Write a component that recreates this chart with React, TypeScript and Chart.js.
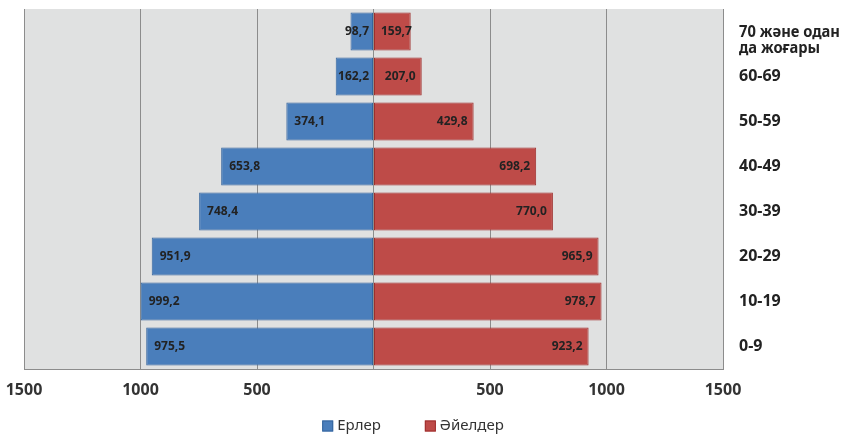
import React, { useEffect, useRef } from "react";
import { Chart, registerables } from "chart.js";

Chart.register(...registerables);

const categories: (string | string[])[] = [
  ["70 және одан", "да жоғары"],
  "60-69",
  "50-59",
  "40-49",
  "30-39",
  "20-29",
  "10-19",
  "0-9",
];
const menValues = [98.7, 162.2, 374.1, 653.8, 748.4, 951.9, 999.2, 975.5];
const womenValues = [159.7, 207.0, 429.8, 698.2, 770.0, 965.9, 978.7, 923.2];
const seriesNames = ["Ерлер", "Әйелдер"];
const xMin = -1500;
const xMax = 1500;
const xStep = 500;

const FONT = '"Noto Sans", "DejaVu Sans", sans-serif';
const fmt = (v: number) => v.toFixed(1).replace(".", ",");

const bgPlugin = {
  id: "plotBg",
  beforeDraw(chart: any) {
    const { ctx, chartArea } = chart;
    ctx.save();
    ctx.fillStyle = "#e0e1e1";
    ctx.fillRect(chartArea.left, chartArea.top, chartArea.right - chartArea.left, chartArea.bottom - chartArea.top);
    ctx.restore();
  },
};

const valueLabelPlugin = {
  id: "valueLabels",
  afterDatasetsDraw(chart: any) {
    const ctx = chart.ctx;
    ctx.save();
    ctx.font = `bold 12px ${FONT}`;
    ctx.fillStyle = "#222222";
    ctx.textBaseline = "middle";
    chart.data.datasets.forEach((ds: any, di: number) => {
      const meta = chart.getDatasetMeta(di);
      const src = di === 0 ? menValues : womenValues;
      meta.data.forEach((el: any, i: number) => {
        const text = fmt(src[i]);
        const w = ctx.measureText(text).width;
        const zero = el.base;
        if (di === 0) {
          const left = Math.min(el.x + 8, zero - 4 - w);
          ctx.textAlign = "left";
          ctx.fillText(text, left, el.y);
        } else {
          const right = Math.max(el.x - 6, zero + 7 + w);
          ctx.textAlign = "right";
          ctx.fillText(text, right, el.y);
        }
      });
    });
    ctx.restore();
  },
};

const categoryLabelPlugin = {
  id: "categoryLabels",
  afterDraw(chart: any) {
    const ctx = chart.ctx;
    const yScale = chart.scales.y;
    ctx.save();
    ctx.font = `bold 16px ${FONT}`;
    ctx.fillStyle = "#222222";
    ctx.textAlign = "left";
    ctx.textBaseline = "middle";
    const x = chart.chartArea.right + 16;
    const avail = chart.width - x - 2;
    categories.forEach((c, i) => {
      const py = yScale.getPixelForValue(i);
      const lines = Array.isArray(c) ? c : [c];
      const widths = lines.map((l) => ctx.measureText(l).width);
      const maxW = Math.max(...widths);
      const factor = maxW > avail ? avail / maxW : 1;
      lines.forEach((line, j) => {
        const dy = lines.length > 1 ? 1 + j * 15.5 : 0;
        ctx.fillText(line, x, py + dy, widths[j] * factor);
      });
    });
    ctx.restore();
  },
};

const legendPlugin = {
  id: "customLegend",
  afterDraw(chart: any) {
    const ctx = chart.ctx;
    ctx.save();
    ctx.font = `15px ${FONT}`;
    ctx.textBaseline = "middle";
    ctx.textAlign = "left";
    const box = 11;
    const gap = 4;
    const itemGap = 44;
    const items = chart.data.datasets.map((ds: any) => ({
      text: ds.label,
      fill: ds.backgroundColor,
      stroke: ds.borderColor,
      w: ctx.measureText(ds.label).width,
    }));
    const total =
      items.reduce((s: number, it: any) => s + box + gap + it.w, 0) + itemGap * (items.length - 1);
    let x = chart.width / 2 - 8 - total / 2;
    const cy = chart.height - 10;
    items.forEach((it: any) => {
      ctx.fillStyle = it.fill;
      ctx.fillRect(x, cy - box / 2, box, box);
      ctx.strokeStyle = it.stroke;
      ctx.lineWidth = 1;
      ctx.strokeRect(x + 0.5, cy - box / 2 + 0.5, box - 1, box - 1);
      ctx.fillStyle = "#333333";
      ctx.fillText(it.text, x + box + gap, cy);
      x += box + gap + it.w + itemGap;
    });
    ctx.restore();
  },
};

export default function App() {
  const canvasRef = useRef<HTMLCanvasElement | null>(null);

  useEffect(() => {
    document.body.style.margin = "0";
    const canvas = canvasRef.current;
    if (!canvas) return;
    Chart.defaults.font.family = FONT;
    const chart = new Chart(canvas, {
      type: "bar",
      data: {
        labels: categories as any,
        datasets: [
          {
            label: seriesNames[0],
            data: menValues.map((v) => -v),
            backgroundColor: "#4a7ebb",
            borderColor: "#35659e",
            borderWidth: 1,
            borderSkipped: false,
            barPercentage: 0.84,
            categoryPercentage: 1,
          },
          {
            label: seriesNames[1],
            data: womenValues,
            backgroundColor: "#be4b48",
            borderColor: "#9e2f2d",
            borderWidth: 1,
            borderSkipped: false,
            barPercentage: 0.84,
            categoryPercentage: 1,
          },
        ],
      },
      options: {
        indexAxis: "y",
        responsive: false,
        animation: false,
        layout: { padding: { top: 9, left: 24, right: 119, bottom: 23 } },
        plugins: {
          legend: { display: false },
          tooltip: { enabled: false },
        },
        scales: {
          x: {
            stacked: true,
            min: xMin,
            max: xMax,
            ticks: {
              stepSize: xStep,
              padding: 12,
              color: "#333333",
              font: { size: 16, weight: "bold", family: FONT },
              maxRotation: 0,
              autoSkip: false,
              callback: (v: any) => (Number(v) === 0 ? "" : String(Math.abs(Number(v)))),
            },
            grid: { color: "#8c8c8c", lineWidth: 1, drawTicks: false },
            border: { display: true, color: "#8c8c8c", width: 1 },
            afterFit: (scale: any) => {
              scale.height = 44;
              scale.paddingLeft = 0;
              scale.paddingRight = 0;
            },
          },
          y: {
            stacked: true,
            display: false,
          },
        },
      },
      plugins: [bgPlugin, valueLabelPlugin, categoryLabelPlugin, legendPlugin],
    } as any);
    return () => chart.destroy();
  }, []);

  return (
    <div style={{ width: 842, height: 436 }}>
      <canvas ref={canvasRef} width={842} height={436} />
    </div>
  );
}
